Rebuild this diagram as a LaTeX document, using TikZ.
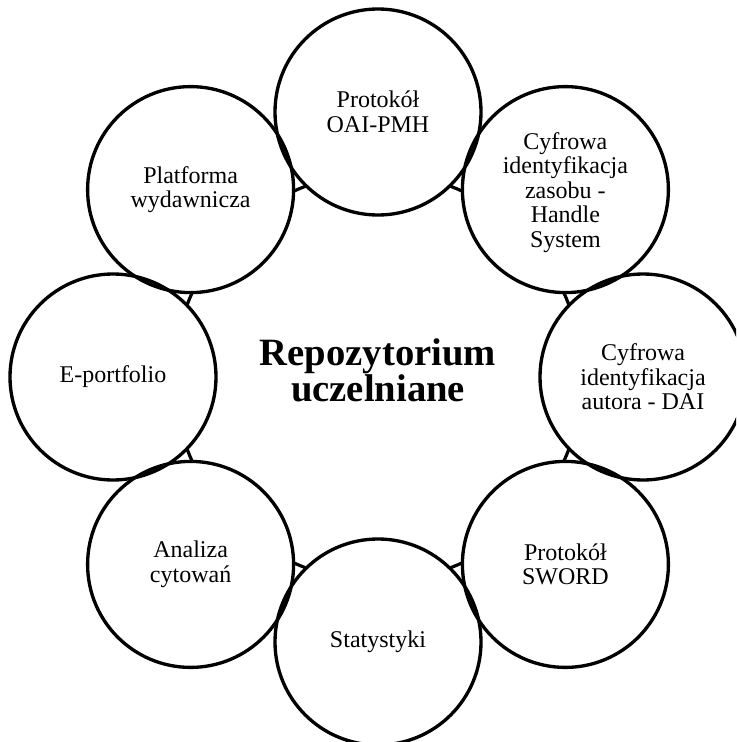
\documentclass[tikz,border=0pt]{standalone}
\usepackage{fontspec}
\setmainfont{Liberation Serif}
\begin{document}
\begin{tikzpicture}[x=0.75pt,y=-0.75pt,
  ringline/.style={line width=2.4pt},
  bubble/.style={circle, minimum size=154.5pt, inner sep=0pt, fill=white, draw=none},
  outline/.style={line width=2.5pt},
  lbl/.style={align=center, inner sep=0pt, font={\fontsize{18}{18.4}\selectfont}},
  ctext/.style={align=center, inner sep=0pt, font={\fontsize{29}{26.2}\selectfont\bfseries}}]
\useasboundingbox (0,0) rectangle (736,742);
\clip (0,0) rectangle (736,742);
\fill[white] (0,0) rectangle (736,742);
\coordinate (c) at (378,377);
\draw[ringline] (c) circle[radius=204];
% bubbles
\node[bubble] (b1) at (378,112) {};
\node[bubble] (b2) at (565.4,189.6) {};
\node[bubble] (b3) at (643,377) {};
\node[bubble] (b4) at (565.4,564.4) {};
\node[bubble] (b5) at (378,642) {};
\node[bubble] (b6) at (190.6,564.4) {};
\node[bubble] (b7) at (113,377) {};
\node[bubble] (b8) at (190.6,189.6) {};
\foreach \n in {b1,b2,b3,b4,b5,b6,b7,b8}
  \draw[outline] (\n.center) circle[radius=103];
% labels
\node[lbl] (t1) at (b1) {Protokół\\OAI-PMH};
\node[lbl] (t2) at ([yshift=-2]b2) {Cyfrowa\\identyfikacja\\zasobu -\\Handle\\System};
\node[lbl] (t3) at (b3) {Cyfrowa\\identyfikacja\\autora - DAI};
\node[lbl] (t4) at (b4) {Protokół\\SWORD};
\node[lbl] (t5) at (b5) {Statystyki};
\node[lbl] (t6) at (b6) {Analiza\\cytowań};
\node[lbl] (t7) at (b7) {E-portfolio};
\node[lbl] (t8) at (b8) {Platforma\\wydawnicza};
% centre title
\node[ctext] (title) at (c) [yshift=5] {Repozytorium\\uczelniane};
\end{tikzpicture}
\end{document}
